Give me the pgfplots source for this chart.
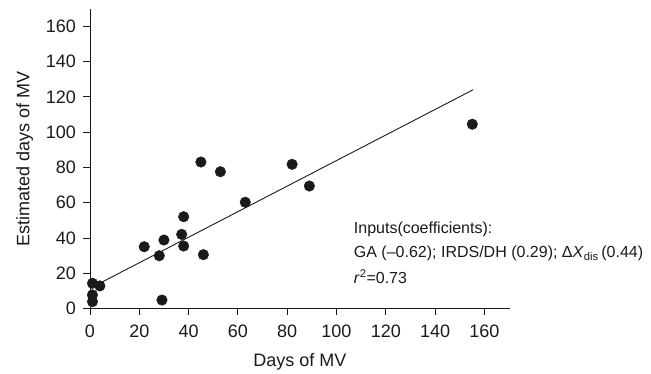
\documentclass[border=0pt]{standalone}
\usepackage{pgfplots}
\pgfplotsset{compat=1.18}
\usepackage{fontspec}
\setmainfont{Liberation Sans}
\definecolor{ink}{HTML}{1A1A1A}
\begin{document}
\begin{tikzpicture}
\useasboundingbox (-90pt,-64.3pt) rectangle (561pt,308.7pt);
\begin{axis}[
  at={(0,0)}, anchor=south west,
  scale only axis, width=420pt, height=299.4pt,
  xmin=0, xmax=170.4, ymin=0, ymax=169.6,
  axis x line=bottom, axis y line=left,
  axis line style={-, ink, line width=0.8pt},
  xtick={0,20,...,160}, ytick={0,20,...,160},
  tick style={ink, line width=0.8pt},
  tick align=outside, major tick length=6.5pt,
  /pgf/number format/assume math mode=true,
  tick label style={font=\fontsize{18}{20}\selectfont, text=ink},
  xticklabel style={yshift=-6pt},
  yticklabel style={xshift=-4pt},
  xlabel={Days of MV}, ylabel={Estimated days of MV},
  label style={font=\fontsize{18}{20}\selectfont, text=ink},
  xlabel style={yshift=-9pt},
  ylabel style={yshift=6pt},
  clip=false,
]
\addplot[only marks, mark=*, mark size=5.3pt, mark options={fill=ink, draw=ink}, color=ink] coordinates {
(1,14.4) (4,12.9) (1,7.8) (1,4.0) (29.2,4.9) (22,35.1) (28.1,30.0) (30,38.9)
(37.2,42.1) (38,35.5) (38,52.1) (46,30.6) (45,83.1) (52.9,77.6) (63,60.3)
(82,81.8) (89,69.5) (155.1,104.5)
};
\addplot[ink, line width=0.9pt] coordinates {(2,13.0) (155.4,124.0)};
\node[anchor=base west, font=\fontsize{16}{18}\selectfont, text=ink, inner sep=0pt] at (axis cs:107,42.7) {Inputs(coefficients):};
\node[anchor=base west, font=\fontsize{16}{18}\selectfont, text=ink, inner sep=0pt] at (axis cs:107,28.9) {GA (\textendash0.62); IRDS/DH (0.29); Δ\textit{X}\textsubscript{dis}\,(0.44)};
\node[anchor=base west, font=\fontsize{16}{18}\selectfont, text=ink, inner sep=0pt] at (axis cs:107,14.3) {\textit{r}\textsuperscript{2}=0.73};
\end{axis}
\end{tikzpicture}
\end{document}
